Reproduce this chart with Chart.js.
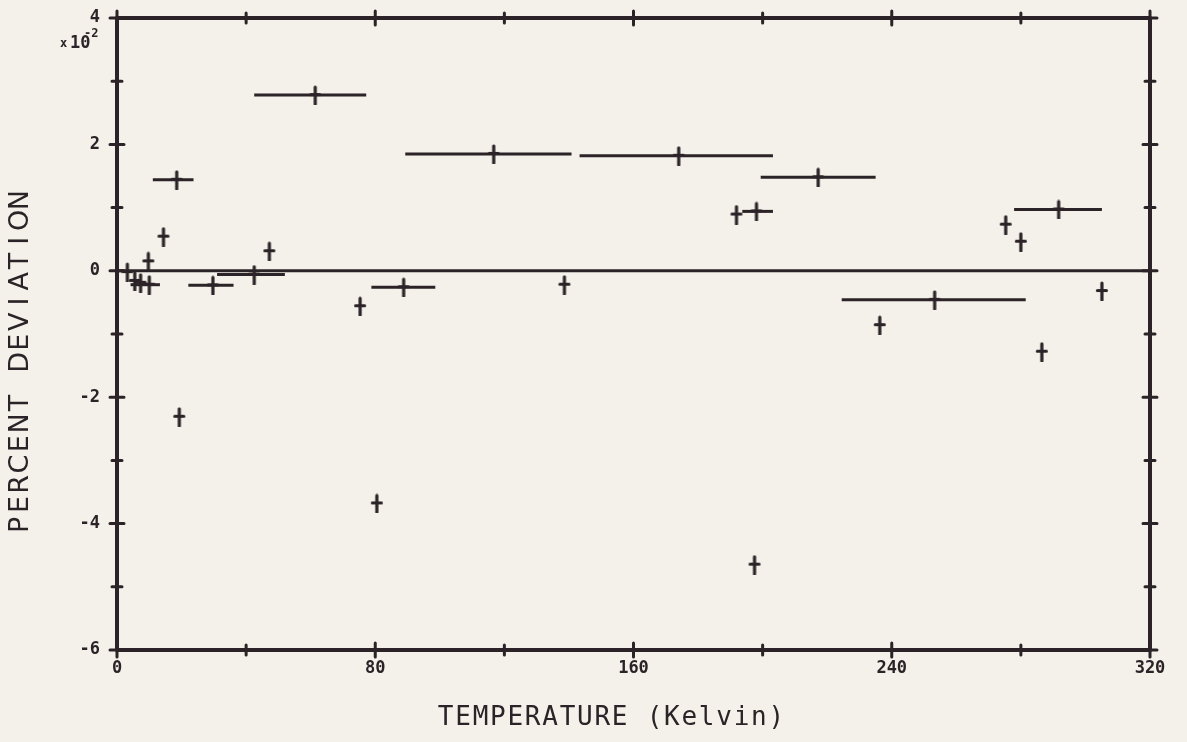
<!DOCTYPE html>
<html><head><meta charset="utf-8">
<script src="https://cdn.jsdelivr.net/npm/chart.js@4/dist/chart.umd.min.js"></script>
<style>html,body{margin:0;padding:0;background:#f3f1e9;}#wrap{width:1187px;height:742px;}</style>
</head><body><div id="wrap"><canvas id="c" width="1187" height="742"></canvas></div>
<script>
// Temperature (K) of each measured point
const temperatures = [3.2, 5.5, 7.3, 10.0, 9.7, 14.4, 18.5, 19.3, 29.7, 42.5, 47.2, 61.4, 75.3, 80.5, 88.8, 116.7, 138.6, 174.0, 191.9, 197.5, 198.1, 217.2, 236.3, 253.3, 275.3, 280.0, 286.5, 291.7, 305.1];
// Percent deviation (x10^-2)
const deviations = [-0.02, -0.16, -0.19, -0.22, 0.15, 0.54, 1.44, -2.31, -0.23, -0.06, 0.31, 2.78, -0.56, -3.68, -0.26, 1.85, -0.22, 1.82, 0.89, -4.65, 0.94, 1.48, -0.86, -0.46, 0.73, 0.46, -1.28, 0.97, -0.32];
// Temperature range bars (null = no bar)
const rangeLow  = [null, null, null, 4.2, null, null, 11.1, null, 22.1, 31.0, null, 42.5, null, null, 78.8, 89.3, null, 143.3, null, null, 193.7, 199.4, null, 224.5, null, null, null, 277.9, null];
const rangeHigh = [null, null, null, 13.3, null, null, 23.7, null, 36.1, 52.0, null, 77.2, null, null, 98.6, 140.8, null, 203.2, null, null, 203.2, 235.0, null, 281.5, null, null, null, 305.1, null];
const xTickLabels = [0, 80, 160, 240, 320];
const yTickLabels = [4, 2, 0, -2, -4, -6];
const zeroLine = [0, 0];

const INK = '#2b2327';
const BG = '#f3f1e9';

const marker = document.createElement('canvas');
marker.width = 14; marker.height = 20;
(function(){
  const g = marker.getContext('2d');
  g.strokeStyle = INK; g.lineWidth = 3.2; g.lineCap = 'round';
  g.beginPath(); g.moveTo(7, 2); g.lineTo(7, 19); g.moveTo(2.5, 9.5); g.lineTo(11.5, 9.5); g.stroke();
})();

const datasets = [];
datasets.push({ type: 'line', showLine: true, data: [{x: 0, y: zeroLine[0]}, {x: 320, y: zeroLine[1]}], borderColor: INK, borderWidth: 3, pointRadius: 0 });
for (let i = 0; i < temperatures.length; i++) {
  if (rangeLow[i] !== null) {
    datasets.push({ type: 'line', showLine: true, data: [{x: rangeLow[i], y: deviations[i]}, {x: rangeHigh[i], y: deviations[i]}], borderColor: INK, borderWidth: 3, pointRadius: 0 });
  }
}
datasets.push({ type: 'scatter', data: temperatures.map((t, i) => ({x: t, y: deviations[i]})), pointStyle: marker, pointRadius: 8, borderColor: INK, backgroundColor: INK });

const framePlugin = {
  id: 'frame',
  beforeDraw(chart) {
    const ctx = chart.ctx;
    ctx.save(); ctx.fillStyle = BG; ctx.fillRect(0, 0, chart.width, chart.height); ctx.restore();
  },
  afterDraw(chart) {
    const {ctx, chartArea: a, scales: {x, y}} = chart;
    ctx.save();
    ctx.strokeStyle = INK; ctx.lineWidth = 4; ctx.lineJoin = 'round';
    ctx.strokeRect(a.left, a.top, a.right - a.left, a.bottom - a.top);
    ctx.lineWidth = 3; ctx.lineCap = 'round';
    for (let v = 0; v <= 320; v += 40) {
      const px = x.getPixelForValue(v);
      const L = (v % 80 === 0) ? 7 : 5;
      ctx.beginPath();
      ctx.moveTo(px, a.top - L); ctx.lineTo(px, a.top + L);
      ctx.moveTo(px, a.bottom - L); ctx.lineTo(px, a.bottom + L);
      ctx.stroke();
    }
    for (let v = -6; v <= 4; v += 1) {
      const py = y.getPixelForValue(v);
      const L = (v % 2 === 0) ? 7 : 5;
      ctx.beginPath();
      ctx.moveTo(a.left - L, py); ctx.lineTo(a.left + L, py);
      ctx.moveTo(a.right - L, py); ctx.lineTo(a.right + L, py);
      ctx.stroke();
    }
    ctx.fillStyle = INK;
    // x title
    const xt = 'TEMPERATURE (Kelvin)';
    ctx.font = '26px "DejaVu Sans Mono"';
    ctx.textAlign = 'center'; ctx.textBaseline = 'middle';
    const pitchX = 17.4, startX = 437;
    for (let i = 0; i < xt.length; i++) ctx.fillText(xt[i], startX + pitchX * (i + 0.5), 718);
    // y title
    const yt = 'PERCENT DEVIATION';
    ctx.save();
    ctx.translate(21, 535); ctx.rotate(-Math.PI / 2);
    ctx.font = '27px "DejaVu Sans"';
    const pitchY = 20.3;
    for (let i = 0; i < yt.length; i++) ctx.fillText(yt[i], pitchY * (i + 0.5), 0);
    ctx.restore();
    // multiplier
    ctx.textAlign = 'left'; ctx.textBaseline = 'alphabetic';
    ctx.font = 'bold 12px "DejaVu Sans Mono"';
    ctx.fillText('x', 60, 47);
    ctx.font = 'bold 17px "DejaVu Sans Mono"';
    ctx.fillText('10', 70, 48);
    ctx.font = 'bold 12px "DejaVu Sans Mono"';
    ctx.fillText('-2', 84, 37);
    ctx.restore();
  }
};

new Chart(document.getElementById('c'), {
  type: 'scatter',
  data: { datasets },
  options: {
    responsive: false, devicePixelRatio: 1, animation: false,
    layout: { padding: { top: 18, right: 37, left: 0, bottom: 0 } },
    plugins: { legend: { display: false }, tooltip: { enabled: false } },
    scales: {
      x: {
        type: 'linear', min: 0, max: 320,
        grid: { display: false, drawTicks: false }, border: { display: false },
        ticks: { stepSize: 40, autoSkip: false, maxRotation: 0, padding: 8, color: INK,
          font: { family: 'DejaVu Sans Mono', size: 17, weight: 'bold' },
          callback: v => xTickLabels.includes(v) ? String(v) : '' },
        afterFit: s => { s.height = 92; s.paddingLeft = 0; s.paddingRight = 0; }
      },
      y: {
        type: 'linear', min: -6, max: 4,
        grid: { display: false, drawTicks: false }, border: { display: false },
        ticks: { stepSize: 1, autoSkip: false, padding: 17, color: INK,
          font: { family: 'DejaVu Sans Mono', size: 17, weight: 'bold' },
          callback: v => yTickLabels.includes(v) ? String(v) : '' },
        afterFit: s => { s.width = 117; s.paddingTop = 0; s.paddingBottom = 0; }
      }
    }
  },
  plugins: [framePlugin]
});
</script></body></html>
